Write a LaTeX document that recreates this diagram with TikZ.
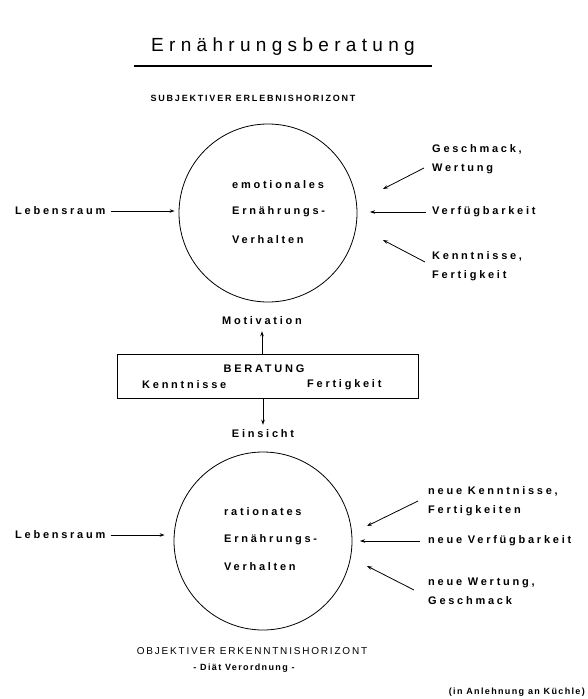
\documentclass[tikz,border=0pt]{standalone}
\usepackage{fontspec}
\setmainfont{Liberation Sans}
\newfontfamily\labfont[LetterSpace=25]{Liberation Sans}
\newfontfamily\smallfont[LetterSpace=15]{Liberation Sans}
\newfontfamily\capfont[LetterSpace=20]{Liberation Sans}
\newfontfamily\capfontb[LetterSpace=18]{Liberation Sans}
\newfontfamily\titlefont[LetterSpace=28]{Liberation Sans}
\usetikzlibrary{arrows.meta}
\begin{document}
\begin{tikzpicture}[x=1pt,y=-1pt,
  lab/.style={inner sep=0pt,font=\labfont\bfseries\fontsize{11}{19}\selectfont},
  slab/.style={inner sep=0pt,font=\smallfont\bfseries\fontsize{9}{11}\selectfont},
  capl/.style={inner sep=0pt,font=\capfont\bfseries\fontsize{9}{10}\selectfont},
  capr/.style={inner sep=0pt,font=\capfontb\fontsize{10}{12}\selectfont},
  arr/.style={line width=0.8pt,-{Stealth[length=5pt,width=3.5pt]}},
  ring/.style={circle,draw,line width=0.8pt,minimum size=178pt,inner sep=0pt}]
\useasboundingbox (0,0) rectangle (587,699);
% title
\node[inner sep=0pt,font=\titlefont\fontsize{19}{22}\selectfont] (title) at (283,47) {Ernährungsberatung};
\draw[line width=1.3pt] (134,66) coordinate (ul1) -- (432,66) coordinate (ul2);
\node[capl] (subj) at (253,98) {SUBJEKTIVER ERLEBNISHORIZONT};
% top circle
\node[ring] (c1) at (268,213) {};
\node[lab,anchor=west] (e1) at (232,185) {emotionales};
\node[lab,anchor=west] (e2) at (232,212) {Ernährungs-};
\node[lab,anchor=west] (e3) at (232,240) {Verhalten};
\node[lab,anchor=west] (leb1) at (15,211) {Lebensraum};
\draw[arr,shorten >=4pt] ([xshift=5pt]leb1.east) -- (leb1.east -| c1.west);
\node[lab,anchor=north west,align=left] (gw) at (432,144) {Geschmack,\\Wertung};
\coordinate (gwt) at (424,168); \coordinate (gwh) at (383,189);
\draw[arr] (gwt) -- (gwh);
\node[lab,anchor=west] (vf) at (432,212) {Verfügbarkeit};
\coordinate (vfh) at (370,212);
\draw[arr] ([xshift=-6pt]vf.west) -- (vfh);
\node[lab,anchor=north west,align=left] (kf) at (432,251) {Kenntnisse,\\Fertigkeit};
\coordinate (kft) at (425,262); \coordinate (kfh) at (383,240);
\draw[arr] (kft) -- (kfh);
% middle
\node[lab] (mot) at (262,321) {Motivation};
\node[draw,line width=0.8pt,minimum width=301pt,minimum height=44pt,inner sep=0pt] (box) at (267.5,376) {};
\node[lab] (ber) at (264,369) {BERATUNG};
\node[lab,anchor=west] (kn) at (142,385) {Kenntnisse};
\node[lab,anchor=west] (fe) at (307,385) {Fertigkeit};
\draw[arr] (box.north -| mot.south) -- ([yshift=-6pt]mot.south);
\node[lab] (ein) at (263,434) {Einsicht};
\draw[arr] (box.south -| ein.north) -- ([yshift=5pt]ein.north);
% bottom circle
\node[ring] (c2) at (263,541) {};
\node[lab,anchor=west] (r1) at (224,512) {rationates};
\node[lab,anchor=west] (r2) at (224,540) {Ernährungs-};
\node[lab,anchor=west] (r3) at (224,567) {Verhalten};
\node[lab,anchor=west] (leb2) at (15,535) {Lebensraum};
\draw[arr,shorten >=9pt] ([xshift=5pt]leb2.east) -- (leb2.east -| c2.west);
\node[lab,anchor=north west,align=left] (nk) at (428,486) {neue Kenntnisse,\\Fertigkeiten};
\coordinate (nkt) at (418,501); \coordinate (nkh) at (367,526);
\draw[arr] (nkt) -- (nkh);
\node[lab,anchor=west] (nv) at (428,541) {neue Verfügbarkeit};
\coordinate (nvh) at (360,541);
\draw[arr] ([xshift=-8pt]nv.west) -- (nvh);
\node[lab,anchor=north west,align=left] (nw) at (428,578) {neue Wertung,\\Geschmack};
\coordinate (nwt) at (414,590); \coordinate (nwh) at (367,566);
\draw[arr] (nwt) -- (nwh);
\node[capr] (obj) at (252,651) {OBJEKTIVER ERKENNTNISHORIZONT};
\node[slab] (diat) at (244,668) {- Diät Verordnung -};
\node[slab,anchor=east] (kue) at (585,692) {(in Anlehnung an Küchle)};
\end{tikzpicture}
\end{document}
